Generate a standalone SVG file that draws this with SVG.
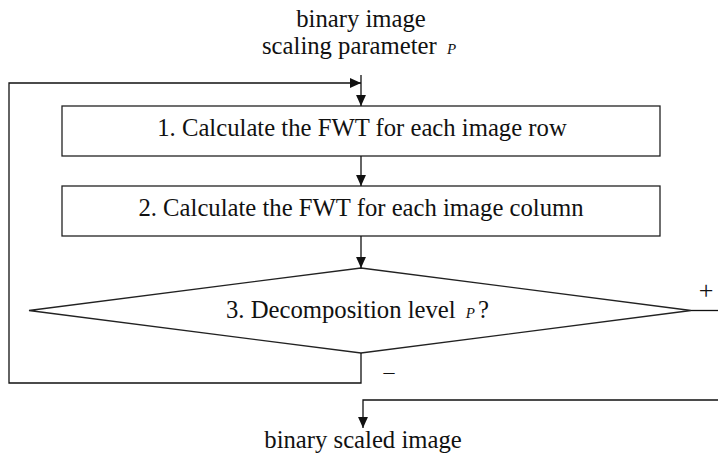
<svg xmlns="http://www.w3.org/2000/svg" width="718" height="456" viewBox="0 0 718 456">
<style>
.t{font-family:"Liberation Serif","Times New Roman",serif;font-size:24.7px;fill:#111}
.p{font-family:"Liberation Serif","Times New Roman",serif;font-size:15px;font-style:italic;fill:#111}
.s{fill:#fff;stroke:#222;stroke-width:1.3}
.c{fill:none;stroke:#111;stroke-width:1.3}
</style>
<defs>
<marker id="a" viewBox="0 0 10 10" refX="10" refY="5" markerWidth="11" markerHeight="11" markerUnits="userSpaceOnUse" orient="auto">
<path d="M0,0.5 L10,5 L0,9.5 z" fill="#111"/>
</marker>
</defs>
<g id="input">
<text class="t" x="361" y="27" text-anchor="middle">binary image</text>
<text class="t" x="262" y="54">scaling parameter <tspan class="p" dx="4">P</tspan></text>
</g>
<g id="step1">
<rect class="s" x="62" y="106" width="598" height="50"/>
<text class="t" x="362" y="136" text-anchor="middle">1. Calculate the FWT for each image row</text>
</g>
<g id="step2">
<rect class="s" x="62" y="186" width="598" height="50"/>
<text class="t" x="361" y="216" text-anchor="middle">2. Calculate the FWT for each image column</text>
</g>
<g id="decision">
<polygon class="s" points="361,268 691,310.5 361,353 29,310.5"/>
<text class="t" x="226" y="318">3. Decomposition level <tspan class="p" dx="4">P</tspan><tspan dx="3">?</tspan></text>
</g>
<g id="output">
<text class="t" x="363" y="448" text-anchor="middle">binary scaled image</text>
</g>
<g id="connectors">
<path class="c" d="M361,75 L361,106" marker-end="url(#a)"/>
<path class="c" d="M361,156 L361,186" marker-end="url(#a)"/>
<path class="c" d="M361,236 L361,268" marker-end="url(#a)"/>
<path class="c" d="M361,353 L361,383 L9,383 L9,83 L361,83" marker-end="url(#a)"/>
<path class="c" d="M691,310.5 L718,310.5"/>
<path class="c" d="M718,400 L363,400 L363,428" marker-end="url(#a)"/>
<text class="t" x="706" y="299" text-anchor="middle" style="font-size:26px">+</text>
<text class="t" x="389" y="379" text-anchor="middle" style="font-size:22px">–</text>
</g>
</svg>
